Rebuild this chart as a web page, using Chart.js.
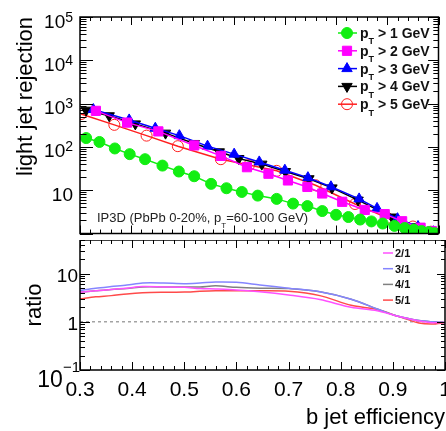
<!DOCTYPE html>
<html>
<head>
<meta charset="utf-8">
<script src="https://cdn.jsdelivr.net/npm/chart.js@4.4.1/dist/chart.umd.min.js"></script>
<style>
  html, body { margin: 0; padding: 0; background: #fff; }
  #wrap { position: relative; width: 446px; height: 431px; overflow: hidden; }
  canvas { position: absolute; left: 0; }
  #rejChart { top: 0; }
  #ratioChart { top: 240px; }
</style>
</head>
<body>
<div id="wrap">
  <canvas id="rejChart" width="446" height="241"></canvas>
  <canvas id="ratioChart" width="446" height="191"></canvas>
</div>
<script>
const FONT = "'Liberation Sans', Arial, Helvetica, sans-serif";

// top panel: light jet rejection vs b jet efficiency, one pair per pT cut
const ptCuts = ['1', '2', '3', '4', '5'];
const effPt1 = [0.312, 0.338, 0.368, 0.397, 0.427, 0.461, 0.493, 0.523, 0.556, 0.586, 0.616, 0.647, 0.684, 0.716, 0.744, 0.773, 0.800, 0.824, 0.847, 0.869, 0.891, 0.914, 0.934, 0.952, 0.967, 0.981, 0.992];
const rejPt1 = [160, 130, 92, 68, 52, 37, 27, 21, 14, 11.1, 9.1, 7.5, 6.3, 4.9, 4.3, 3.3, 2.7, 2.4, 2.1, 1.9, 1.7, 1.5, 1.34, 1.23, 1.14, 1.08, 1.02];
const effPt2 = [0.331, 0.392, 0.453, 0.523, 0.575, 0.626, 0.668, 0.706, 0.744, 0.773, 0.812, 0.856, 0.895, 0.929, 0.965, 0.987];
const rejPt2 = [680, 364, 228, 108, 62, 34, 24, 16.8, 11.9, 8.4, 5.4, 3.5, 2.8, 1.92, 1.36, 1.14];
const effPt3 = [0.326, 0.396, 0.447, 0.494, 0.549, 0.601, 0.650, 0.700, 0.745, 0.790, 0.845, 0.880, 0.920, 0.960, 0.990];
const rejPt3 = [730, 420, 270, 182, 104, 68, 45, 29, 19.5, 12, 6.3, 3.8, 2.2, 1.45, 1.1];
const effPt4 = [0.312, 0.357, 0.408, 0.467, 0.523, 0.572, 0.610, 0.655, 0.701, 0.747, 0.792, 0.843, 0.909, 0.959, 0.987];
const rejPt4 = [705, 524, 340, 208, 120, 77, 54, 40, 27, 18.4, 11.3, 5.9, 2.4, 1.43, 1.14];
const effPt5 = [0.302, 0.367, 0.430, 0.491, 0.575, 0.630, 0.684, 0.760, 0.837, 0.900, 0.950, 0.985];
const rejPt5 = [573, 323, 182, 104, 52, 38, 28, 13, 4.8, 2.3, 1.45, 1.1];
const rejTickVals = [10, 100, 1000, 10000, 100000];
const rejTickExp = ['', '2', '3', '4', '5'];

// bottom panel: ratios to the pT > 1 GeV curve
const ratioEff = [0.30, 0.33, 0.36, 0.39, 0.42, 0.46, 0.50, 0.53, 0.56, 0.60, 0.645, 0.70, 0.76, 0.82, 0.87, 0.91, 0.95, 0.975, 1.0];
const ratio21 = [4.1, 4.4, 4.7, 5.0, 5.4, 5.3, 5.2, 4.9, 4.8, 4.6, 4.2, 3.6, 2.9, 2.0, 1.7, 1.3, 1.04, 0.96, 0.97];
const ratio31 = [4.5, 5.0, 5.4, 5.8, 6.4, 6.4, 6.2, 6.4, 6.7, 6.6, 5.8, 5.0, 4.2, 2.95, 1.85, 1.3, 1.06, 1.0, 0.97];
const ratio41 = [4.1, 4.4, 4.7, 4.9, 5.3, 5.3, 5.3, 5.3, 5.6, 5.2, 5.0, 4.9, 4.2, 2.95, 1.85, 1.3, 1.06, 1.0, 0.97];
const ratio51 = [3.0, 3.3, 3.5, 3.8, 4.0, 4.1, 4.15, 4.3, 4.4, 4.4, 4.4, 4.3, 3.5, 2.2, 1.8, 1.3, 0.95, 0.9, 0.96];
const ratioNames = ['2/1', '3/1', '4/1', '5/1'];
const unityEff = [0.3, 1.0];
const unityVal = [1, 1];
const ratioTickVals = [0.1, 1, 10];
const ratioTickBase = ['10', '1', '10'];
const ratioTickExp = ['\u22121', '', ''];

function pairs(xs, ys) {
    return xs.map((x, i) => ({ x: x, y: ys[i] }));
}

// draws "a_Tb": the char after '_' goes as a subscript
function drawSubText(ctx, text, x, y, size, weight) {
    const parts = text.split('_');
    ctx.textAlign = 'left';
    ctx.textBaseline = 'alphabetic';
    ctx.font = weight + ' ' + size + 'px ' + FONT;
    ctx.fillText(parts[0], x, y);
    let cx = x + ctx.measureText(parts[0]).width;
    if (parts.length > 1) {
        const sub = parts[1][0], rest = parts[1].slice(1);
        ctx.font = weight + ' ' + Math.round(size * 0.65) + 'px ' + FONT;
        ctx.fillText(sub, cx, y + size * 0.45);
        cx += ctx.measureText(sub).width;
        ctx.font = weight + ' ' + size + 'px ' + FONT;
        ctx.fillText(rest, cx, y);
    }
}

// ROOT style frame: box, inward ticks on all four sides, log labels with exponents
const framePlugin = {
    id: 'frame',
    afterDatasetsDraw(chart, args, o) {
        const { ctx, chartArea: a } = chart;
        const sx = chart.scales.x, sy = chart.scales.y;
        ctx.save();
        ctx.strokeStyle = '#000';
        ctx.lineWidth = 1;
        ctx.beginPath();
        for (let i = 0; i <= 35; i++) {
            const px = Math.round(sx.getPixelForValue(0.3 + i * 0.02)) + 0.5;
            const len = i % 5 === 0 ? o.xTick : o.xTick / 2;
            ctx.moveTo(px, a.bottom); ctx.lineTo(px, a.bottom - len);
            ctx.moveTo(px, a.top); ctx.lineTo(px, a.top + len);
        }
        const d0 = Math.floor(Math.log10(sy.min)), d1 = Math.ceil(Math.log10(sy.max));
        for (let d = d0; d <= d1; d++) {
            for (let m = 1; m < 10; m++) {
                const v = m * Math.pow(10, d);
                if (v < sy.min * 0.999 || v > sy.max * 1.001) continue;
                const py = Math.round(sy.getPixelForValue(v)) + 0.5;
                const len = m === 1 ? o.yTick : o.yTick / 2;
                ctx.moveTo(a.left, py); ctx.lineTo(a.left + len, py);
                ctx.moveTo(a.right, py); ctx.lineTo(a.right - len * 0.8, py);
            }
        }
        ctx.stroke();
        ctx.lineWidth = 1.5;
        ctx.strokeRect(a.left, a.top, a.right - a.left, a.bottom - a.top);

        ctx.fillStyle = '#000';
        ctx.textBaseline = 'alphabetic';
        ctx.textAlign = 'right';
        o.labels.forEach(l => {
            const py = sy.getPixelForValue(l.v) + l.dy;
            let right = l.right;
            if (l.exp) {
                ctx.font = l.expSize + 'px ' + FONT;
                ctx.fillText(l.exp, right, py - l.raise);
                right -= ctx.measureText(l.exp).width;
            }
            ctx.font = l.size + 'px ' + FONT;
            ctx.fillText(l.base, right, py);
        });
        ctx.restore();
    }
};

const rejLegend = {
    id: 'rejLegend',
    afterDatasetsDraw(chart) {
        const ctx = chart.ctx;
        ctx.save();
        chart.data.datasets.forEach((ds, i) => {
            const y = 33 + i * 17.8;
            ctx.strokeStyle = ds.borderColor;
            ctx.lineWidth = 1.5;
            ctx.beginPath();
            ctx.moveTo(338, y); ctx.lineTo(357, y);
            ctx.stroke();
            ctx.fillStyle = ds.pointBackgroundColor;
            ctx.strokeStyle = ds.pointBorderColor;
            ctx.lineWidth = ds.pointBorderWidth;
            Chart.helpers.drawPoint(ctx, {
                pointStyle: ds.pointStyle, rotation: ds.pointRotation || 0,
                radius: ds.pointRadius, borderWidth: ds.pointBorderWidth
            }, 347, y);
            ctx.fillStyle = '#111';
            drawSubText(ctx, ds.label, 360, y + 5, 14, 'bold');
        });
        ctx.fillStyle = '#222';
        drawSubText(ctx, 'IP3D (PbPb 0-20%, p_T=60-100 GeV)', 97, 222, 13, 'normal');
        ctx.restore();
    }
};

const ratioLegend = {
    id: 'ratioLegend',
    afterDatasetsDraw(chart) {
        const ctx = chart.ctx;
        ctx.save();
        ratioNames.forEach((name, i) => {
            const ds = chart.data.datasets[i];
            const y = 13 + i * 15.7;
            ctx.strokeStyle = ds.borderColor;
            ctx.lineWidth = 1.5;
            ctx.beginPath();
            ctx.moveTo(383, y); ctx.lineTo(393, y);
            ctx.stroke();
            ctx.fillStyle = '#111';
            ctx.font = 'bold 11px ' + FONT;
            ctx.textAlign = 'left';
            ctx.textBaseline = 'alphabetic';
            ctx.fillText(name, 395, y + 4);
        });
        ctx.restore();
    }
};

function fixWidth(w) { return s => { s.width = w; }; }

const ptStyles = [
    { color: '#11ee11', style: 'circle', fill: '#11ee11', rot: 0, r: 5.5 },
    { color: '#ff00ff', style: 'rect', fill: '#ff00ff', rot: 0, r: 6.5 },
    { color: '#0000ff', style: 'triangle', fill: '#0000ff', rot: 0, r: 6 },
    { color: '#000000', style: 'triangle', fill: '#000000', rot: 180, r: 6 },
    { color: '#ff2020', style: 'circle', fill: 'rgba(0,0,0,0)', rot: 0, r: 5.5 }
];
const ptEff = [effPt1, effPt2, effPt3, effPt4, effPt5];
const ptRej = [rejPt1, rejPt2, rejPt3, rejPt4, rejPt5];

new Chart(document.getElementById('rejChart'), {
    type: 'line',
    data: {
        datasets: ptCuts.map((c, i) => ({
            label: 'p_T > ' + c + ' GeV',
            data: pairs(ptEff[i], ptRej[i]),
            borderColor: ptStyles[i].color,
            backgroundColor: ptStyles[i].color,
            borderWidth: 1.5,
            tension: 0,
            pointStyle: ptStyles[i].style,
            pointRotation: ptStyles[i].rot,
            pointRadius: ptStyles[i].r,
            pointBackgroundColor: ptStyles[i].fill,
            pointBorderColor: ptStyles[i].color,
            pointBorderWidth: 1
        }))
    },
    options: {
        responsive: false,
        animation: false,
        layout: { padding: { top: 17, right: 1, bottom: 1, left: 0 } },
        plugins: {
            legend: { display: false },
            tooltip: { enabled: false },
            frame: {
                xTick: 8, yTick: 13,
                labels: rejTickVals.map((v, i) => ({
                    v: v, base: '10', exp: rejTickExp[i], size: 19, expSize: 14,
                    dy: 10.5, raise: 6, right: 73
                }))
            }
        },
        scales: {
            x: { type: 'linear', min: 0.3, max: 1.0, display: false },
            y: {
                type: 'logarithmic', min: 1, max: 100000,
                grid: { display: false }, border: { display: false },
                ticks: { display: false },
                title: {
                    display: true, text: 'light jet rejection', align: 'end', color: '#000',
                    font: { family: FONT, size: 22 }, padding: { top: 13, bottom: 0 }
                },
                afterFit: fixWidth(80)
            }
        }
    },
    plugins: [framePlugin, rejLegend]
});

const ratioColors = ['#ff50ff', '#8585ff', '#808080', '#ff4a4a'];
const ratioSets = [ratio21, ratio31, ratio41, ratio51];

new Chart(document.getElementById('ratioChart'), {
    type: 'line',
    data: {
        datasets: ratioSets.map((r, i) => ({
            label: ratioNames[i],
            data: pairs(ratioEff, r),
            borderColor: ratioColors[i],
            borderWidth: 1.5,
            pointRadius: 0,
            tension: 0.3
        })).concat([{
            label: 'unity',
            data: pairs(unityEff, unityVal),
            borderColor: '#777',
            borderWidth: 1,
            borderDash: [3, 3],
            pointRadius: 0
        }])
    },
    options: {
        responsive: false,
        animation: false,
        layout: { padding: { top: 0, right: 1, bottom: 0, left: 0 } },
        plugins: {
            legend: { display: false },
            tooltip: { enabled: false },
            frame: {
                xTick: 8, yTick: 10,
                labels: ratioTickVals.map((v, i) => ({
                    v: v, base: ratioTickBase[i], exp: ratioTickExp[i],
                    size: ratioTickExp[i] ? 23 : 19, expSize: 15,
                    dy: ratioTickExp[i] ? 17 : 8, raise: 15,
                    right: ratioTickExp[i] ? 80 : 78
                }))
            }
        },
        scales: {
            x: {
                type: 'linear', min: 0.3, max: 1.0,
                grid: { display: false }, border: { display: false },
                ticks: {
                    stepSize: 0.1, color: '#000', padding: 0, maxRotation: 0, autoSkip: false,
                    font: { family: FONT, size: 21 },
                    callback: v => {
                        const r = Math.round(v * 10) / 10;
                        return r === 1 ? '1' : r.toFixed(1);
                    }
                },
                title: {
                    display: true, text: 'b jet efficiency', align: 'end', color: '#000',
                    font: { family: FONT, size: 22, lineHeight: 1 }, padding: { top: 0, bottom: 2 }
                },
                afterFit: s => { s.height = 61; s.paddingLeft = 0; s.paddingRight = 0; }
            },
            y: {
                type: 'logarithmic', min: 0.1, max: 50,
                grid: { display: false }, border: { display: false },
                ticks: { display: false },
                title: {
                    display: true, text: 'ratio', align: 'center', color: '#000',
                    font: { family: FONT, size: 22 }, padding: { top: 22, bottom: 0 }
                },
                afterFit: fixWidth(80)
            }
        }
    },
    plugins: [framePlugin, ratioLegend]
});
</script>
</body>
</html>
